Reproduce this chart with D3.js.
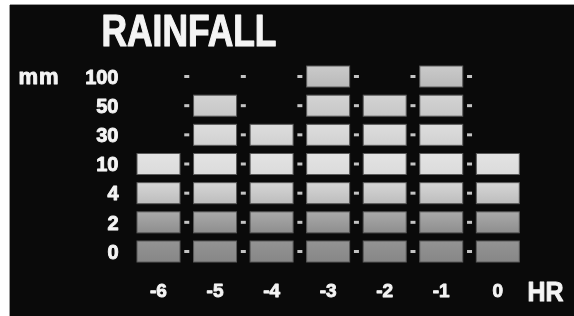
<!DOCTYPE html>
<html>
<head>
<meta charset="utf-8">
<script src="https://cdn.jsdelivr.net/npm/d3@7"></script>
<style>
  html, body { margin: 0; padding: 0; background: #ffffff; }
  svg { display: block; }
  text { font-family: "Liberation Sans", Arial, sans-serif; font-weight: 700; fill: #f4f4f4; stroke: #f4f4f4; stroke-linejoin: round; }
</style>
</head>
<body>
<svg id="chart" width="574" height="316"></svg>
<script>
// ---- data ----
const hours = ["-6", "-5", "-4", "-3", "-2", "-1", "0"];
const levels = ["0", "2", "4", "10", "30", "50", "100"];          // tick labels, bottom -> top
const rainfall = [10, 50, 30, 100, 50, 100, 10];                   // mm reached in each hour
const titleText = "RAINFALL";
const yUnit = "mm";
const xUnit = "HR";

// ---- styling (per level gradient) ----
const levelTop =    ["#939393", "#aaaaaa", "#d6d6d6", "#e3e3e3", "#dddddd", "#d3d3d3", "#cacaca"];
const levelBottom = ["#878787", "#8e8e8e", "#bdbdbd", "#dbdbdb", "#d1d1d1", "#c7c7c7", "#b9b9b9"];

const svg = d3.select("#chart");
const defs = svg.append("defs");

levels.forEach((lv, i) => {
  const g = defs.append("linearGradient").attr("id", "grad" + i)
    .attr("x1", 0).attr("y1", 0).attr("x2", 0).attr("y2", 1);
  g.append("stop").attr("offset", "0%").attr("stop-color", levelTop[i]);
  g.append("stop").attr("offset", "100%").attr("stop-color", levelBottom[i]);
});

const soft = defs.append("filter").attr("id", "soft")
  .attr("x", "-10%").attr("y", "-10%").attr("width", "120%").attr("height", "120%");
soft.append("feGaussianBlur").attr("stdDeviation", 0.55);

// background panel
svg.append("rect").attr("x", 10).attr("y", 5).attr("width", 564).attr("height", 311).attr("fill", "#0a0a0a");
svg.append("line").attr("x1", 9.5).attr("x2", 9.5).attr("y1", 5).attr("y2", 316).attr("stroke", "#9a9a9a");
svg.append("line").attr("x1", 10).attr("x2", 574).attr("y1", 4.5).attr("y2", 4.5).attr("stroke", "#9a9a9a");

// scales
const x = d3.scaleBand().domain(hours).range([137, 519.3]).paddingInner(0.24).paddingOuter(0);
const y = d3.scaleBand().domain(levels.slice().reverse()).range([66, 262]).paddingInner(0.28).paddingOuter(0);

// cells
const cells = [];
hours.forEach((h, hi) => {
  levels.forEach((lv, li) => {
    if (+lv <= rainfall[hi]) cells.push({ h, lv, li });
  });
});

const gCells = svg.append("g").attr("filter", "url(#soft)");
gCells.selectAll("rect.cell").data(cells).join("rect")
  .attr("class", "cell")
  .attr("x", d => x(d.h))
  .attr("y", d => y(d.lv))
  .attr("width", x.bandwidth())
  .attr("height", y.bandwidth())
  .attr("fill", d => "url(#grad" + d.li + ")")
  .attr("stroke", "#5a5a5a")
  .attr("stroke-width", 1);

// separator dashes between columns, on every level
const gapW = x.step() - x.bandwidth();
const dashes = [];
hours.slice(0, -1).forEach(h => levels.forEach(lv => dashes.push({ h, lv })));
gCells.selectAll("rect.dash").data(dashes).join("rect")
  .attr("class", "dash")
  .attr("x", d => x(d.h) + x.bandwidth() + gapW / 2 - 2.5)
  .attr("y", d => y(d.lv) + y.bandwidth() / 2 - 1.5)
  .attr("width", 5).attr("height", 3)
  .attr("fill", "#c4c4c4");

// y axis labels
const gTxt = svg.append("g").attr("filter", "url(#soft)");
gTxt.selectAll("text.ylab").data(levels).join("text")
  .attr("class", "ylab")
  .attr("x", 118.5)
  .attr("y", d => y(d) + y.bandwidth() / 2)
  .attr("dy", "0.36em")
  .attr("text-anchor", "end")
  .attr("font-size", 20)
  .attr("stroke-width", 0.9)
  .text(d => d);

gTxt.append("text")
  .attr("x", 18.5).attr("y", y("100") + y.bandwidth() / 2).attr("dy", "0.36em")
  .attr("font-size", 22).attr("stroke-width", 0.9)
  .attr("letter-spacing", 1)
  .text(yUnit);

// x axis labels
gTxt.selectAll("text.xlab").data(hours).join("text")
  .attr("class", "xlab")
  .attr("x", d => x(d) + x.bandwidth() / 2)
  .attr("y", 297)
  .attr("text-anchor", "middle")
  .attr("font-size", 19)
  .attr("stroke-width", 0.9)
  .text(d => d);

gTxt.append("text")
  .attr("x", 527.5).attr("y", 301)
  .attr("font-size", 27).attr("stroke-width", 1)
  .attr("textLength", 36).attr("lengthAdjust", "spacingAndGlyphs")
  .text(xUnit);

// title
gTxt.append("text")
  .attr("x", 101.5).attr("y", 46)
  .attr("font-size", 45).attr("stroke-width", 1.2)
  .attr("textLength", 175).attr("lengthAdjust", "spacingAndGlyphs")
  .text(titleText);
</script>
</body>
</html>
